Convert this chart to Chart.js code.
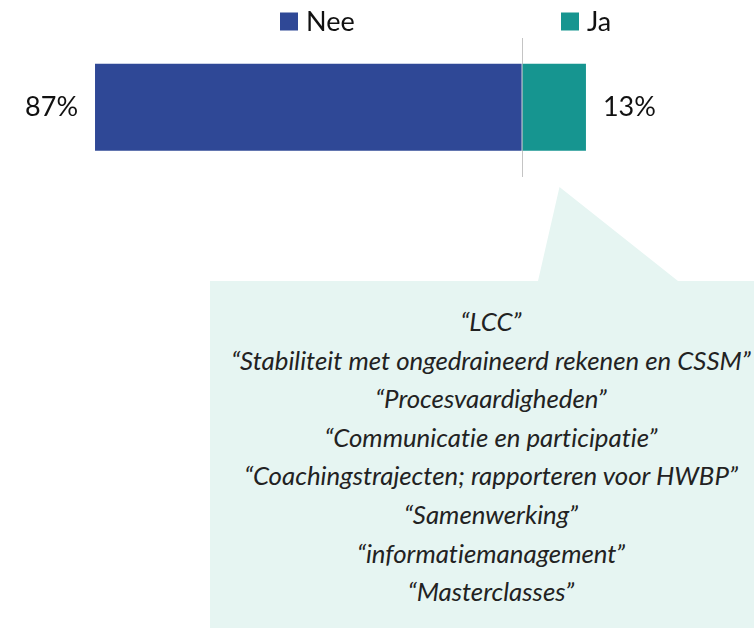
<!DOCTYPE html>
<html>
<head>
<meta charset="utf-8">
<script src="https://cdn.jsdelivr.net/npm/chart.js@4/dist/chart.umd.min.js"></script>
<style>
  html, body { margin: 0; padding: 0; background: #ffffff; }
  #wrap { position: relative; width: 754px; height: 629px; overflow: hidden; }
  #callout { position: absolute; left: 0; top: 0; }
  #quotes {
    position: absolute; left: 228px; width: 526px; top: 302px;
    text-align: center; font-family: Lato, sans-serif; font-style: italic;
    color: #222222; font-size: 25.8px; line-height: 38.6px; white-space: nowrap;
    font-variant-ligatures: none; font-feature-settings: "liga" 0, "dlig" 0;
  }
  #chart { position: absolute; left: 0; top: 0; }
</style>
</head>
<body>
<div id="wrap">
  <svg id="callout" width="754" height="629">
    <polygon points="210,281 538,281 559.5,187 678,281 754,281 754,628 210,628" fill="#E6F5F2"/>
  </svg>
  <div id="quotes"></div>
  <canvas id="chart" width="754" height="629"></canvas>
</div>
<script>
const categories = [''];
const seriesNames = ['Nee', 'Ja'];
const neeValues = [87];
const jaValues = [13];
const seriesColors = ['#2F4896', '#169590'];
const quotes = [
  '“LCC”',
  '“Stabiliteit met ongedraineerd rekenen en CSSM”',
  '“Procesvaardigheden”',
  '“Communicatie en participatie”',
  '“Coachingstrajecten; rapporteren voor HWBP”',
  '“Samenwerking”',
  '“informatiemanagement”',
  '“Masterclasses”'
];

const qDiv = document.getElementById('quotes');
quotes.forEach(q => { const d = document.createElement('div'); d.textContent = q; qDiv.appendChild(d); });

const valueLabels = {
  id: 'valueLabels',
  afterDatasetsDraw(chart) {
    const ctx = chart.ctx;
    ctx.save();
    ctx.font = '27px Lato, sans-serif';
    ctx.fillStyle = '#111111';
    ctx.textBaseline = 'middle';
    const src = [neeValues, jaValues];
    chart.data.datasets.forEach((ds, di) => {
      chart.getDatasetMeta(di).data.forEach((el, i) => {
        const txt = src[di][i] + '%';
        if (di === 0) { ctx.textAlign = 'right'; ctx.fillText(txt, el.x - 17, el.y); }
        else { ctx.textAlign = 'left'; ctx.fillText(txt, el.x + 17, el.y); }
      });
    });
    ctx.restore();
  }
};

const legendPositions = [280, 561];
const customLegend = {
  id: 'customLegend',
  afterDraw(chart) {
    const ctx = chart.ctx;
    ctx.save();
    ctx.font = '27px Lato, sans-serif';
    ctx.textBaseline = 'middle';
    ctx.textAlign = 'left';
    chart.data.datasets.forEach((ds, i) => {
      const x = legendPositions[i];
      ctx.fillStyle = ds.backgroundColor;
      ctx.fillRect(x, 12.5, 18, 18);
      ctx.fillStyle = '#111111';
      ctx.fillText(ds.label, x + 26, 22);
    });
    ctx.restore();
  }
};

new Chart(document.getElementById('chart'), {
  type: 'bar',
  data: {
    labels: categories,
    datasets: [
      { label: seriesNames[0], data: neeValues.map(v => -v), backgroundColor: seriesColors[0], borderWidth: 0, barPercentage: 0.627, categoryPercentage: 1 },
      { label: seriesNames[1], data: jaValues, backgroundColor: seriesColors[1], borderWidth: 0, barPercentage: 0.627, categoryPercentage: 1 }
    ]
  },
  options: {
    indexAxis: 'y',
    responsive: false,
    animation: false,
    devicePixelRatio: 1,
    layout: { padding: { left: 31.2, right: 35.5, top: 38, bottom: 452.5 } },
    plugins: { legend: { display: false }, tooltip: { enabled: false } },
    scales: {
      x: {
        stacked: true, min: -100, max: 40, z: 1,
        ticks: { display: false, stepSize: 10 },
        grid: {
          drawTicks: false, lineWidth: 1,
          color: c => (c.tick && c.tick.value === 0) ? '#C4C4C4' : 'rgba(0,0,0,0)'
        },
        border: { display: false }
      },
      y: { stacked: true, display: false }
    }
  },
  plugins: [valueLabels, customLegend]
});
</script>
</body>
</html>
